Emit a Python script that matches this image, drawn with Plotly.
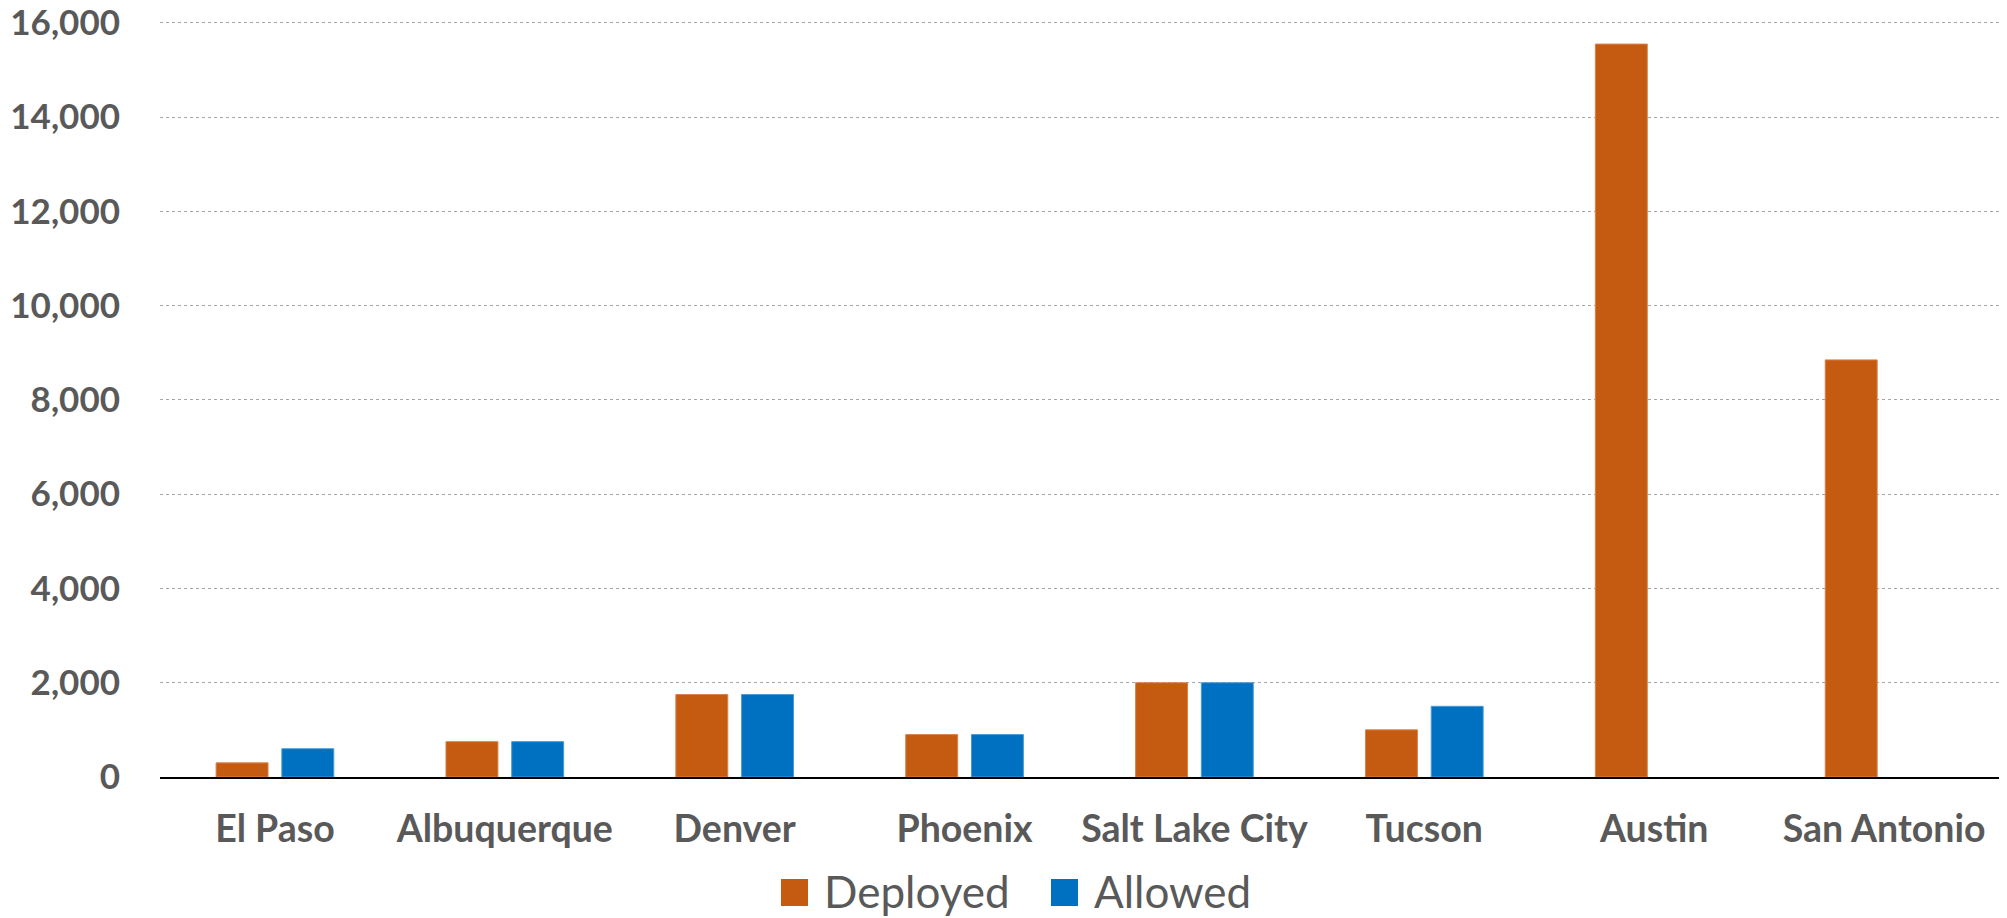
import plotly.graph_objects as go

cities = ["El Paso", "Albuquerque", "Denver", "Phoenix", "Salt Lake City", "Tucson", "Austin", "San Antonio"]
deployed = [300, 750, 1750, 900, 2000, 1000, 15550, 8850]
allowed = [600, 750, 1750, 900, 2000, 1500, None, None]
y_ticks = [0, 2000, 4000, 6000, 8000, 10000, 12000, 14000, 16000]
series_names = ["Deployed", "Allowed"]
series_colors = ["#C55A11", "#0070C0"]
edge_colors = ["#D9824A", "#4A9AD6"]

TEXT = "#595959"
FONT = "Lato"
OFF = 8  # default page body margin
W, H = 2007 - OFF, 918 - OFF
L, R, T, B = 160 - OFF, 8, 13, 141
PW, PH = W - L - R, H - T - B
Y_MAX = 16040  # a hair above the top tick so its gridline is drawn


def px2x(px):
    return (px - OFF - L) / PW


def py2y(py):
    return (H - B - (py - OFF)) / PH


fig = go.Figure()
for name, vals, col, ec in zip(series_names, [deployed, allowed], series_colors, edge_colors):
    fig.add_trace(go.Bar(name=name, x=cities, y=vals, showlegend=False,
                         marker=dict(color=col, line=dict(color=ec, width=1))))

# legend drawn as shapes + text to match the large swatches
legend_sq = [781, 1051]
legend_tx = [822, 1092]
for sx, tx, name, col in zip(legend_sq, legend_tx, series_names, series_colors):
    fig.add_shape(type="rect", xref="paper", yref="paper",
                  x0=px2x(sx), x1=px2x(sx + 27), y0=py2y(906), y1=py2y(879),
                  fillcolor=col, line=dict(width=0))
    fig.add_annotation(xref="paper", yref="paper", x=px2x(tx), y=py2y(891),
                       xanchor="left", yanchor="middle", text=name, showarrow=False,
                       font=dict(size=44, color=TEXT, family=FONT))

fig.update_layout(
    width=W, height=H, autosize=False,
    margin=dict(l=L, r=R, t=T, b=B),
    paper_bgcolor="white", plot_bgcolor="white",
    barmode="group", bargap=0.428, bargroupgap=0.21,
    font=dict(family=FONT, color=TEXT),
    showlegend=False,
)
fig.update_xaxes(
    automargin=False,
    showgrid=False, showline=True, linecolor="black", linewidth=2,
    ticks="outside", ticklen=18, tickcolor="rgba(0,0,0,0)",
    tickfont=dict(size=37.5, color=TEXT, family=FONT, weight="bold"),
)
fig.update_yaxes(
    automargin=False, ticklabeloverflow="allow",
    range=[0, Y_MAX], tickvals=y_ticks, tickformat=",d",
    showgrid=True, gridcolor="#a6a6a6", gridwidth=1, griddash="dot",
    zeroline=False, showline=False,
    ticks="outside", ticklen=32, tickcolor="rgba(0,0,0,0)",
    tickfont=dict(size=35, color=TEXT, family=FONT, weight="bold"),
)

fig.write_html("out.html")
